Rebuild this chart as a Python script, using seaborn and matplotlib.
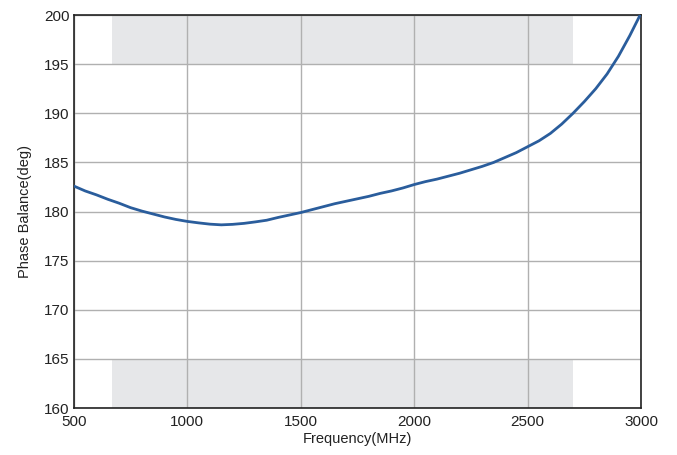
import numpy as np
import pandas as pd
import seaborn as sns
import matplotlib
matplotlib.use("Agg")
import matplotlib.pyplot as plt

# ===============================
# DATA
# ===============================
freq_mhz = [500, 550, 600, 650, 700, 750, 800, 850, 900, 950,
            1000, 1050, 1100, 1150, 1200, 1250, 1300, 1350, 1400, 1450,
            1500, 1550, 1600, 1650, 1700, 1750, 1800, 1850, 1900, 1950,
            2000, 2050, 2100, 2150, 2200, 2250, 2300, 2350, 2400, 2450,
            2500, 2550, 2600, 2650, 2700, 2750, 2800, 2850, 2900, 2950, 3000]
phase_deg = [182.6, 182.1, 181.7, 181.25, 180.85, 180.4, 180.05, 179.75, 179.45, 179.2,
             179.0, 178.85, 178.72, 178.65, 178.7, 178.8, 178.95, 179.12, 179.4, 179.65,
             179.9, 180.2, 180.5, 180.8, 181.05, 181.3, 181.55, 181.85, 182.1, 182.4,
             182.75, 183.05, 183.3, 183.6, 183.9, 184.25, 184.6, 185.0, 185.5, 186.0,
             186.6, 187.2, 187.95, 188.9, 190.0, 191.2, 192.5, 194.0, 195.8, 197.9, 200.2]

band_lo, band_hi = 670, 2700
spec_lo, spec_hi = 165, 195

df = pd.DataFrame({"Frequency": freq_mhz, "Phase": phase_deg})

# ===============================
# PLOT
# ===============================
sns.set_style("white")
plt.rcParams["font.family"] = ["Liberation Sans", "DejaVu Sans"]

fig = plt.figure(figsize=(6.77, 4.55), dpi=100)
ax = fig.add_axes([0.109, 0.103, 0.838, 0.864])

# shaded out-of-spec zones
ax.fill_between([band_lo, band_hi], spec_hi, 200, color="#e6e7e9", lw=0, zorder=0)
ax.fill_between([band_lo, band_hi], 160, spec_lo, color="#e6e7e9", lw=0, zorder=0)

sns.lineplot(data=df, x="Frequency", y="Phase", ax=ax, color="#2a5d9c", lw=2, zorder=3)

ax.set_xlim(500, 3000)
ax.set_ylim(160, 200)
ax.set_xticks(np.arange(500, 3001, 500))
ax.set_yticks(np.arange(160, 201, 5))
ax.grid(True, color="#b0b0b0", lw=1, zorder=1)
ax.set_axisbelow(True)

for s in ax.spines.values():
    s.set_color("#222222")
    s.set_linewidth(1.2)

ax.tick_params(axis="both", labelsize=11, length=0, colors="#222222")
ax.tick_params(axis="x", pad=5)
ax.tick_params(axis="y", pad=3)
ax.set_xlabel("Frequency(MHz)", fontsize=10.5, color="#222222", labelpad=2)
ax.set_ylabel("Phase Balance(deg)", fontsize=10.5, color="#222222", labelpad=9)

fig.savefig("out.png", dpi=100)
